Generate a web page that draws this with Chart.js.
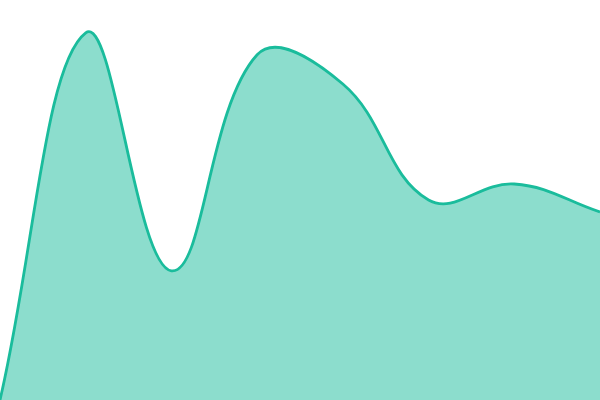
<!DOCTYPE html>
<html><head><meta charset="utf-8">
<style>html,body{margin:0;padding:0;background:#fff}#c{width:600px;height:400px}</style>
<script src="https://cdn.jsdelivr.net/npm/chart.js@4"></script>
</head><body>
<div id="c"><canvas id="chart" width="600" height="400"></canvas></div>
<script>
const labels = ['1','2','3','4','5','6','7','8'];
const values = [0, 91.8, 32.3, 86.3, 79, 50, 54, 47];
new Chart(document.getElementById('chart'), {
  type: 'line',
  data: { labels: labels, datasets: [{
    data: values,
    borderColor: '#1abc9c',
    backgroundColor: 'rgba(26,188,156,0.5)',
    borderWidth: 2.8,
    fill: true,
    tension: 0.4,
    pointRadius: 0
  }]},
  options: {
    responsive: false,
    animation: false,
    layout: { padding: 0 },
    plugins: { legend: { display: false }, tooltip: { enabled: false } },
    scales: {
      x: { display: false },
      y: { display: false, min: 0, max: 100 }
    }
  }
});
</script>
</body></html>
